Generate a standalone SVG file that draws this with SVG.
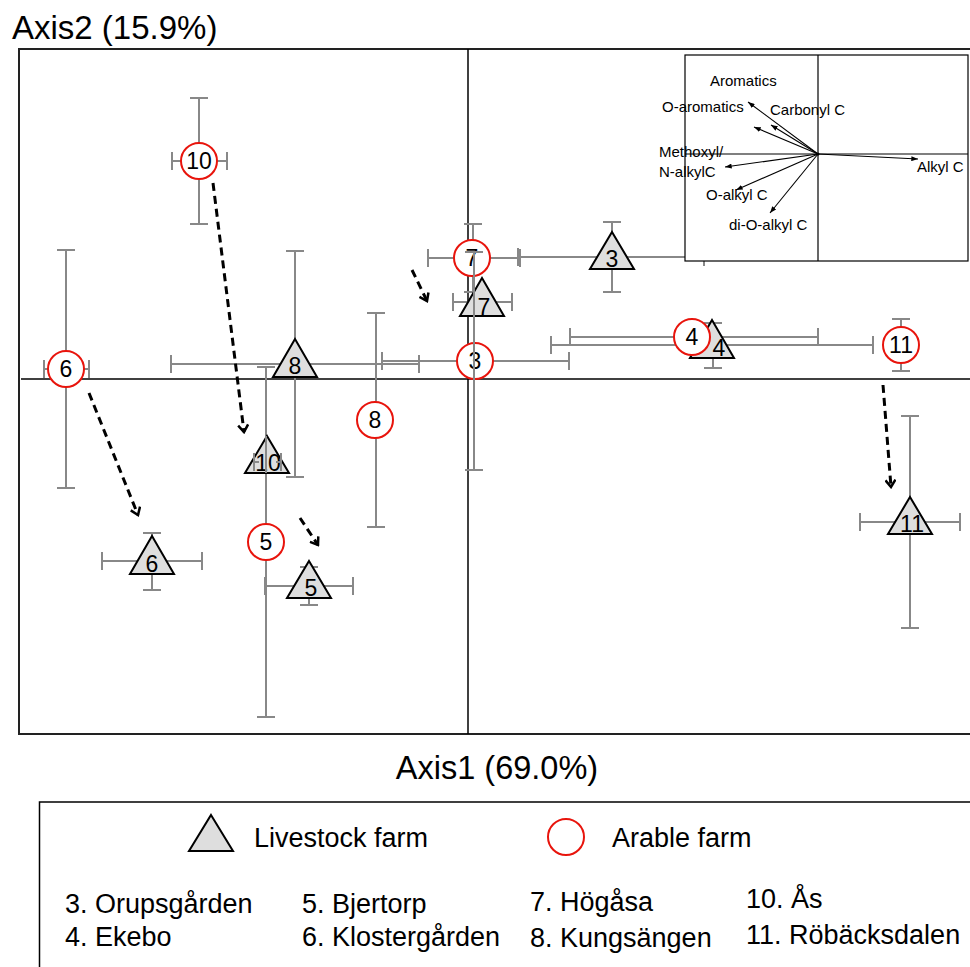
<svg xmlns="http://www.w3.org/2000/svg" width="970" height="967" viewBox="0 0 970 967">
<defs>
<style>
text{font-family:"Liberation Sans",Arial,sans-serif;fill:#000}
.bar{stroke:#888;stroke-width:2;fill:none}
.ar{fill:#fff;stroke:#e8140c;stroke-width:2}
.lv{fill:#dedede;stroke:#000;stroke-width:2;stroke-linejoin:miter}
.num{font-size:23px;text-anchor:middle}
.ax{stroke:#000;stroke-width:1.5;fill:none}
.dash{stroke:#000;stroke-width:3;stroke-dasharray:8 5;fill:none;marker-end:url(#chev)}
.vec{stroke:#000;stroke-width:1.1;fill:none;marker-end:url(#tip)}
.ins{font-size:15px}
.leg{font-size:27px}
</style>
<marker id="chev" viewBox="0 0 12 12" refX="10" refY="6" markerWidth="12" markerHeight="12" markerUnits="userSpaceOnUse" orient="auto">
<path d="M3,1 L10,6 L3,11" fill="none" stroke="#000" stroke-width="2.5" stroke-dasharray="none"/>
</marker>
<marker id="tip" viewBox="0 0 8 6" refX="8" refY="3" markerWidth="7" markerHeight="5" markerUnits="userSpaceOnUse" orient="auto">
<path d="M0,0 L8,3 L0,6 z" fill="#000"/>
</marker>
</defs>
<rect width="970" height="967" fill="#fff"/>

<g id="frame">
<path d="M972,49 H19 V734 H972" fill="none" stroke="#222" stroke-width="2"/>
<line class="ax" x1="21" y1="379" x2="972" y2="379"/>
<line class="ax" x1="468" y1="49" x2="468" y2="734"/>
<text x="12" y="39" font-size="33">Axis2 (15.9%)</text>
<text x="497" y="779" font-size="32.5" text-anchor="middle">Axis1 (69.0%)</text>
</g>

<g id="errorbars">
<path class="bar" d="M199,98V143M199,179V224M190,98H208M190,224H208M172,161H181M217,161H227M172,152V170M227,152V170"/>
<path class="bar" d="M66,250V351M66,387V488M57,250H75M57,488H75M44,369H48M84,369H89M44,360V378M89,360V378"/>
<path class="bar" d="M295,251V339M295,377V477M286,251H304M286,477H304M171,364H419M171,355V373M419,355V373"/>
<path class="bar" d="M376,313V402M376,438V527M367,313H385M367,527H385"/>
<path class="bar" d="M266,367V524M266,560V717M257,367H275M257,717H275"/>
<path class="bar" d="M612,222V232M612,269V292M603,222H621M603,292H621M518,257H704M518,248V266M704,248V266"/>
<path class="bar" d="M473,224V292M464,224H482M464,292H482M428,258H520M428,249V267M520,249V267"/>
<path class="bar" d="M453,302H512M453,293V311M512,293V311"/>
<path class="bar" d="M382,361H569M382,352V370M569,352V370"/>
<path class="bar" d="M570,337H818M570,328V346M818,328V346"/>
<path class="bar" d="M551,345H873M551,336V354M873,336V354M713,323V368M704,323H722M704,368H722"/>
<path class="bar" d="M901,319V371M892,319H910M892,371H910"/>
<path class="bar" d="M152,533V590M143,533H161M143,590H161M102,561H202M102,552V570M202,552V570"/>
<path class="bar" d="M309,567V605M300,567H318M300,605H318M265,586H353M265,577V595M353,577V595"/>
<path class="bar" d="M910,416V628M901,416H919M901,628H919M860,522H960M860,513V531M960,513V531"/>
</g>

<g id="L8"><path class="lv" d="M295,339L317,377H273Z"/><text class="num" x="295" y="374">8</text></g>
<g id="L3"><path class="lv" d="M612,232L634,269H590Z"/><text class="num" x="612" y="267">3</text></g>
<g id="L7"><path class="lv" d="M482,278L504,316H460Z"/><text class="num" x="484" y="315">7</text></g>
<g id="L4"><path class="lv" d="M712,320L734,358H690Z"/><text class="num" x="719" y="356">4</text></g>
<g id="L10"><path class="lv" d="M267,436L289,473H245Z"/><text class="num" x="268" y="471">10</text></g>
<g id="L6"><path class="lv" d="M152,536L174,574H130Z"/><text class="num" x="152" y="572">6</text></g>
<g id="L5"><path class="lv" d="M309,561L331,598H287Z"/><text class="num" x="311" y="596">5</text></g>
<g id="L11"><path class="lv" d="M910,497L932,534H888Z"/><text class="num" x="912" y="532">11</text></g>

<g id="A10"><circle class="ar" cx="199" cy="161" r="18"/><text class="num" x="199" y="169">10</text></g>
<g id="A6"><circle class="ar" cx="66" cy="369" r="18"/><text class="num" x="66" y="377">6</text></g>
<g id="A7"><circle class="ar" cx="472" cy="258" r="18"/><text class="num" x="472" y="266">7</text></g>
<g id="A3"><circle class="ar" cx="475" cy="361" r="18"/><text class="num" x="475" y="369">3</text></g>
<g id="A8"><circle class="ar" cx="375" cy="420" r="18"/><text class="num" x="375" y="428">8</text></g>
<g id="A5"><circle class="ar" cx="266" cy="542" r="18"/><text class="num" x="266" y="550">5</text></g>
<g id="A4"><circle class="ar" cx="692" cy="337" r="18"/><text class="num" x="692" y="345">4</text></g>
<g id="A11"><circle class="ar" cx="901" cy="345" r="18"/><text class="num" x="901" y="353">11</text></g>

<g id="overbars">
<path class="bar" d="M474,252V470M465,252H483M465,470H483"/>
<path class="bar" d="M266,436V473M254,453V471M281,453V471M254,462H259M276,462H281"/>
</g>

<g id="inset">
<rect x="685" y="55" width="283" height="206" fill="#fff" stroke="#000" stroke-width="1.2"/>
<line x1="818" y1="55" x2="818" y2="261" stroke="#000" stroke-width="1.2"/>
<line x1="685" y1="154" x2="968" y2="154" stroke="#000" stroke-width="1.2"/>
<line class="vec" x1="818" y1="154" x2="748" y2="102"/>
<line class="vec" x1="818" y1="154" x2="754" y2="127"/>
<line class="vec" x1="818" y1="154" x2="771" y2="125"/>
<line class="vec" x1="818" y1="154" x2="725" y2="167"/>
<line class="vec" x1="818" y1="154" x2="736" y2="190"/>
<line class="vec" x1="818" y1="154" x2="770" y2="213"/>
<line class="vec" x1="818" y1="154" x2="918" y2="159"/>
<circle cx="818" cy="154" r="1.5" fill="#000"/>
<text class="ins" x="710" y="86">Aromatics</text>
<text class="ins" x="662" y="112">O-aromatics</text>
<text class="ins" x="770" y="115">Carbonyl C</text>
<text class="ins" x="659" y="157">Methoxyl/</text>
<text class="ins" x="659" y="177">N-alkylC</text>
<text class="ins" x="706" y="200">O-alkyl C</text>
<text class="ins" x="729" y="230">di-O-alkyl C</text>
<text class="ins" x="917" y="172">Alkyl C</text>
</g>

<g id="connectors">
<line class="dash" x1="213" y1="183" x2="244" y2="432"/>
<line class="dash" x1="89" y1="393" x2="138" y2="515"/>
<line class="dash" x1="300" y1="518" x2="318" y2="545"/>
<line class="dash" x1="412" y1="270" x2="427" y2="301"/>
<line class="dash" x1="883" y1="385" x2="891" y2="487"/>
</g>

<g id="legend">
<rect x="39.5" y="802" width="940" height="200" fill="none" stroke="#000" stroke-width="1.5"/>
<path class="lv" d="M211,815L233,851H189Z" stroke-width="1.5"/>
<text class="leg" x="254" y="847">Livestock farm</text>
<circle class="ar" cx="566" cy="837" r="18"/>
<text class="leg" x="612" y="847">Arable farm</text>
<text class="leg" x="65" y="913">3. Orupsgården</text>
<text class="leg" x="65" y="946">4. Ekebo</text>
<text class="leg" x="302" y="913">5. Bjertorp</text>
<text class="leg" x="302" y="946">6. Klostergården</text>
<text class="leg" x="530" y="911">7. Högåsa</text>
<text class="leg" x="530" y="947">8. Kungsängen</text>
<text class="leg" x="746" y="908">10. Ås</text>
<text class="leg" x="746" y="944">11. Röbäcksdalen</text>
</g>
</svg>
